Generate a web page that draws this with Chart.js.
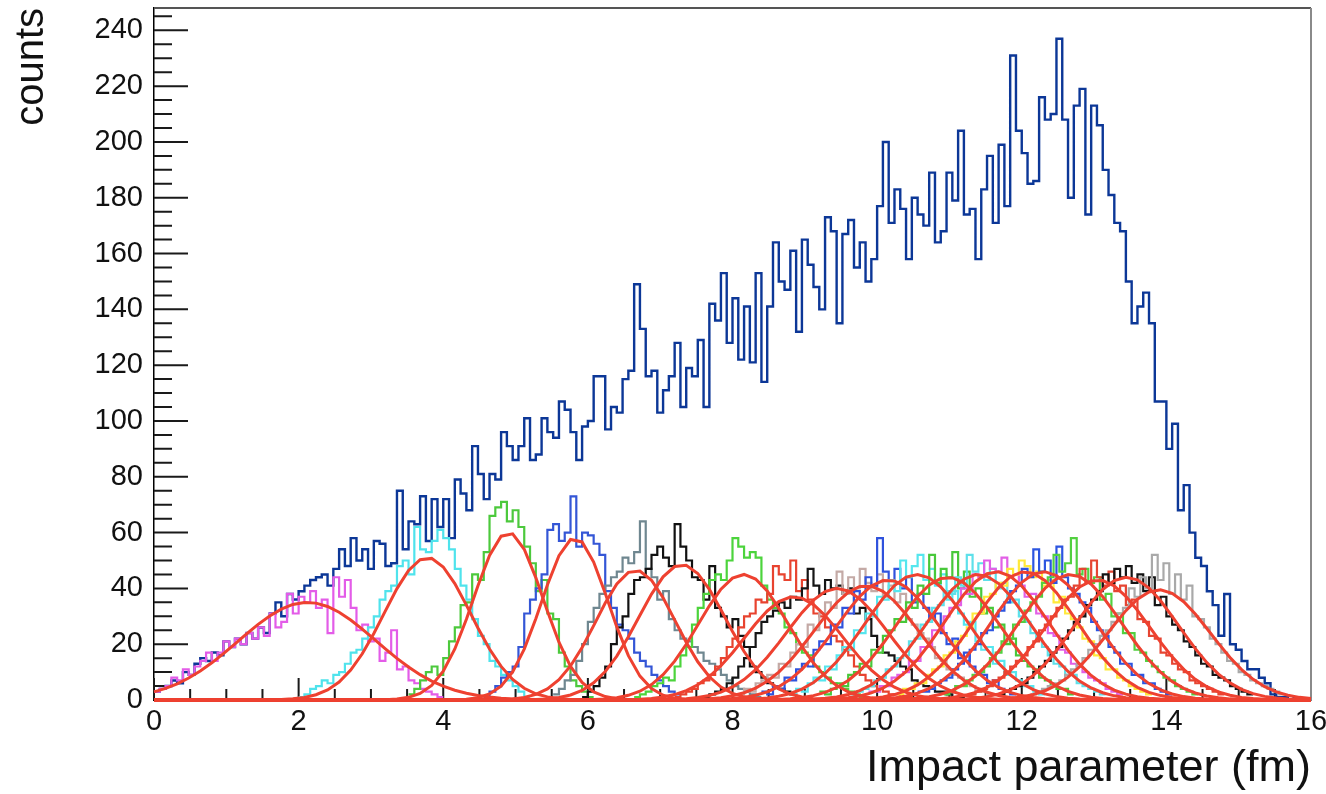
<!DOCTYPE html>
<html>
<head>
<meta charset="utf-8">
<script src="https://cdn.jsdelivr.net/npm/chart.js@4"></script>
<style>
  html, body { margin: 0; padding: 0; background: #fff; }
</style>
</head>
<body>
<canvas id="c" width="1326" height="794"></canvas>
<script>
// histogram binning (fm)
const binWidth = 0.08;

// total distribution, bins of 0.08 fm from 0 to 16
const totalCounts = [
  3, 4, 5, 7, 6, 10, 9, 13, 15, 14,
  17, 16, 21, 19, 22, 20, 24, 22, 26, 24,
  31, 35, 30, 38, 36, 39, 41, 43, 44, 45,
  41, 47, 54, 48, 58, 50, 54, 47, 57, 56,
  48, 49, 75, 54, 64, 63, 73, 57, 72, 62,
  72, 58, 79, 74, 68, 91, 81, 72, 81, 79,
  96, 91, 86, 91, 101, 86, 88, 101, 96, 94,
  107, 104, 96, 86, 98, 100, 116, 116, 97, 105,
  103, 115, 118, 149, 133, 116, 118, 103, 111, 116,
  128, 105, 119, 116, 129, 105, 142, 136, 153, 128,
  144, 122, 141, 121, 153, 114, 141, 164, 150, 147,
  161, 132, 165, 156, 148, 140, 173, 168, 135, 167,
  172, 155, 164, 150, 158, 177, 200, 171, 183, 176,
  158, 180, 174, 170, 189, 164, 168, 189, 179, 204,
  174, 176, 158, 183, 195, 171, 199, 177, 231, 204,
  196, 185, 186, 216, 208, 210, 237, 208, 180, 213,
  219, 174, 213, 206, 190, 181, 171, 168, 150, 135,
  141, 146, 135, 107, 107, 90, 99, 68, 77, 60,
  51, 48, 39, 34, 23, 38, 20, 18, 14, 11,
  11, 8, 6, 2, 1, 1, 0, 1, 0, 0
];

// centrality classes: first bin edge and counts
const classStart = [0.00, 2.00, 3.52, 4.56, 5.52, 5.92, 6.64, 7.20, 7.60, 8.08, 8.40,
                    8.80, 9.20, 9.64, 9.88, 10.28, 10.56, 10.92, 11.28, 11.68, 12.12];

const h01 = [3,4,5,8,7,11,9,12,14,17, 14,17,21,19,22,20,24,22,26,23, 31,26,28,38,31,37,35,39,33,36,
             24,44,37,43,33,25,27,21,22,14, 17,25,11,12,7,6,4,3,2,1];
const h02 = [1,2,4,5,7,6,9,10,13,17, 18,22,26,30,36,39,41,48,50,45, 62,54,53,57,61,58,54,47,41,36,
             29,23,20,14,12,9,7,5,3,1];
const h03 = [2,4,7,10,12,9,15,21,26,34, 35,45,43,53,66,69,71,64,68,62, 55,49,39,43,31,29,17,12,7,5, 3,1];
const h04 = [1,3,5,8,10,12,19,31,36,40, 45,61,63,57,60,73,55,60,59,56, 52,39,33,27,25,22,17,14,12,9, 7,5,3,2];
const h05 = [2,4,7,9,14,20,28,33,38,41, 44,46,51,49,53,64,47,44,36,39, 29,25,22,21,19,17,14,13,11,9,
             7,5,4,3,2,1];
const h06 = [1,3,5,8,12,20,26,30,38,43, 44,47,52,55,51,48,63,55,50,44, 43,36,48,33,30,26,29,23,19,12,
             10,8,6,5,4,3,2,1];
const h07 = [1,2,3,5,6,8,7,12,16,19, 27,33,38,43,45,43,50,58,55,51, 53,51,41,36,33,31,26,24,20,17,
             16,12,10,8,6,5,4,3,2,1];
const h08 = [1,2,3,4,6,7,9,12,15,19, 22,26,30,31,36,35,38,48,45,43, 50,39,43,36,31,30,26,23,21,18,
             16,12,9,7,5,4,3,2,2,1, 1,0];
const h09 = [1,2,3,4,6,8,12,15,19,24, 28,30,32,35,33,37,36,40,47,41, 38,43,40,41,38,40,31,33,29,23,
             19,17,16,14,12,11,7,6,5,4, 3,3,2,1,1,0];
const h10 = [2,4,3,6,7,9,8,13,12,17,20,19,27,25,31,35,33,46,38,44,40,47,
             42,39,45,37,41,35,38,29,27,24,22,19,15,14,11,9,8,6,5,3,3,2];
const h11 = [3,2,5,4,8,7,11,13,12,18,21,20,27,26,33,31,39,36,44,41,58,46,
             43,47,40,44,35,38,33,29,31,24,20,22,15,17,12,10,9,6,7,4,3,2];
const h12 = [2,4,3,6,8,7,12,11,16,19,18,25,24,31,30,37,36,43,39,50,44,48,
             52,43,47,41,45,36,39,31,27,28,21,18,19,13,14,9,10,7,5,5,3,2];
const h13 = [3,2,4,6,5,9,10,13,12,18,17,23,25,29,28,35,33,41,38,52,42,47,
             44,53,40,46,37,40,31,33,26,27,20,22,16,14,12,11,8,7,5,4,4,2];
const h14 = [2,3,4,5,7,8,11,12,15,16,21,22,27,28,33,34,39,38,44,41,52,46,
             49,43,47,40,42,35,36,30,28,24,22,19,16,13,12,9,9,6,5,4,3,2];
const h15 = [3,3,5,5,8,9,10,14,14,19,19,25,25,30,33,34,40,38,45,44,50,47,
             46,51,44,45,41,37,38,31,30,24,23,18,17,13,12,10,8,7,6,4,3,2];
const h16 = [2,4,4,6,6,9,11,12,16,17,21,23,26,31,31,37,38,42,41,47,45,50,
             48,44,46,41,43,35,37,31,29,26,22,21,16,15,11,11,8,7,5,4,3,2];
const h17 = [3,3,4,6,7,8,11,13,14,18,20,24,25,30,32,35,39,41,47,44,54,46,
             50,42,55,44,40,38,35,33,28,25,23,19,17,13,13,9,9,6,6,4,3,2];
const h18 = [2,3,5,5,7,9,10,12,15,17,21,22,27,28,32,35,37,42,44,52,46,49,
             58,45,47,42,44,36,38,30,31,24,24,18,17,14,12,10,8,7,5,4,3,2];
const h19 = [2,3,4,5,7,8,10,12,14,16,19,21,25,27,30,33,36,37,41,47,42,50,
             44,41,46,39,41,34,36,29,28,23,22,17,16,13,11,10,7,6,5,4,3,2];
const h20 = [2,3,4,5,6,8,10,12,14,17,19,22,25,28,30,34,36,39,45,42,47,44,
             48,42,45,39,44,34,37,30,27,25,21,19,16,13,12,9,8,7,5,4,3,2];
const h21 = [2,3,4,5,6,7,9,11,13,15,18,20,23,25,28,31,33,40,37,44,40,52,
             43,49,38,45,36,41,30,29,26,22,20,17,14,13,10,9,7,6,5,4,3,2];

const classCounts = [h01,h02,h03,h04,h05,h06,h07,h08,h09,h10,h11,h12,h13,h14,h15,h16,h17,h18,h19,h20,h21];
const classColors = ['#e35ce8','#4fe3ec','#4cc93c','#3456d6','#6f8790','#111111','#4cd43c','#e8432f',
                     '#151515','#c4aaa6','#2f52dd','#55e6ee','#48c83a','#5de0ea','#e25fe6','#ffe93a',
                     '#2c55e0','#52d040','#e64532','#141414','#a9a9a9'];

// gaussian fit parameters per class
const fitMean  = [2.12, 3.78, 4.90, 5.82, 6.66, 7.30, 8.15, 8.85, 9.45, 9.85, 10.15,
                  10.55, 10.98, 11.40, 11.65, 12.05, 12.30, 12.67, 13.05, 13.45, 13.90];
const fitSigma = [0.95, 0.60, 0.48, 0.46, 0.55, 0.60, 0.62, 0.68, 0.70, 0.72, 0.72,
                  0.72, 0.72, 0.72, 0.72, 0.72, 0.72, 0.72, 0.72, 0.72, 0.71];
const fitAmp   = [35, 51, 60, 58, 46.5, 48.5, 45, 37, 40, 41, 43,
                  45, 44, 45, 46, 46, 46, 45, 43, 44, 39.5];
const fitSteps = 100;

// axes
const xMin = 0, xMax = 16, xMajor = 2, xMinor = 0.5;
const yMin = 0, yMax = 248, yMajor = 20, yMinor = 5;

function stepPoints(start, counts) {
  const pts = [];
  counts.forEach((c, i) => {
    const lo = start + i * binWidth;
    pts.push({x: lo, y: c}, {x: lo + binWidth, y: c});
  });
  return pts;
}

function fitCurve(m, s, a) {
  const pts = [];
  for (let i = 0; i <= fitSteps; i++) {
    const x = xMin + (xMax - xMin) * i / fitSteps;
    pts.push({x: x, y: a * Math.exp(-0.5 * Math.pow((x - m) / s, 2))});
  }
  return pts;
}

const datasets = [];
datasets.push({
  data: stepPoints(0, totalCounts),
  borderColor: '#0c3797', borderWidth: 2.4, order: 200, clip: false
});
classCounts.forEach((counts, i) => {
  datasets.push({
    data: stepPoints(classStart[i], counts),
    borderColor: classColors[i], borderWidth: 2.2, order: 100 - i, clip: false
  });
});
fitMean.forEach((m, i) => {
  datasets.push({
    data: fitCurve(m, fitSigma[i], fitAmp[i]),
    borderColor: '#ee4130', borderWidth: 3, order: 30 - i, clip: false
  });
});

// ROOT-like inward ticks and frame
const frameTicks = {
  id: 'frameTicks',
  beforeDatasetsDraw(chart) {
    const {ctx, chartArea: a, scales: {x, y}} = chart;
    ctx.save();
    ctx.strokeStyle = '#1a1a1a';
    ctx.lineWidth = 2;
    ctx.beginPath();
    for (let v = yMin; v <= yMax; v += yMinor) {
      const py = y.getPixelForValue(v);
      const len = v % yMajor === 0 ? 34 : 18;
      ctx.moveTo(a.left, py);
      ctx.lineTo(a.left + len, py);
    }
    for (let v = xMin; v <= xMax; v += xMinor) {
      const px = x.getPixelForValue(v);
      const len = v % xMajor === 0 ? 22 : 11;
      ctx.moveTo(px, a.bottom);
      ctx.lineTo(px, a.bottom - len);
    }
    ctx.stroke();
    ctx.strokeStyle = '#555';
    ctx.beginPath();
    ctx.moveTo(a.left, a.top);
    ctx.lineTo(a.right, a.top);
    ctx.stroke();
    ctx.strokeStyle = '#8a8a8a';
    ctx.beginPath();
    ctx.moveTo(a.right, a.top);
    ctx.lineTo(a.right, a.bottom);
    ctx.stroke();
    ctx.restore();
  }
};

const font = 'Liberation Sans, Arial, Helvetica, sans-serif';

new Chart(document.getElementById('c'), {
  type: 'line',
  data: { datasets: datasets },
  options: {
    responsive: false,
    animation: false,
    devicePixelRatio: 1,
    layout: { padding: { top: 8, right: 15, left: 0, bottom: 0 } },
    plugins: { legend: { display: false }, tooltip: { enabled: false } },
    elements: { point: { radius: 0 }, line: { tension: 0, borderJoinStyle: 'miter' } },
    scales: {
      x: {
        type: 'linear', min: xMin, max: xMax,
        afterFit(s) { s.height = 94; s.paddingLeft = 0; s.paddingRight = 0; },
        grid: { display: false, drawTicks: false },
        border: { display: true, color: '#000', width: 1.5 },
        ticks: { stepSize: xMajor, padding: 5, color: '#111', maxRotation: 0, autoSkip: false,
                 font: { family: font, size: 29 } },
        title: { display: true, text: 'Impact parameter (fm)', align: 'end', color: '#111',
                 font: { family: font, size: 45, lineHeight: 1 }, padding: { top: 0, bottom: 3 } }
      },
      y: {
        type: 'linear', min: yMin, max: yMax,
        afterFit(s) { s.width = 154; s.paddingTop = 0; s.paddingBottom = 0; },
        grid: { display: false, drawTicks: false },
        border: { display: true, color: '#000', width: 1.5 },
        ticks: { stepSize: yMajor, includeBounds: false, padding: 11, color: '#111',
                 font: { family: font, size: 29 } },
        title: { display: true, text: 'counts', align: 'end', color: '#111',
                 font: { family: font, size: 40, lineHeight: 1 }, padding: { top: 12, bottom: 0 } }
      }
    }
  },
  plugins: [frameTicks]
});
</script>
</body>
</html>
